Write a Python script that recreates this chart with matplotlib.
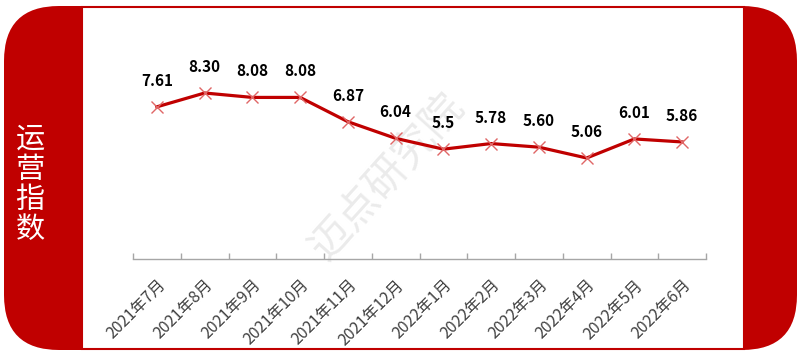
import matplotlib
matplotlib.use("Agg")
import matplotlib.pyplot as plt
from matplotlib.patches import FancyBboxPatch, Rectangle

plt.rcParams['font.family'] = ['Noto Sans CJK SC', 'DejaVu Sans']

categories = ["2021年7月", "2021年8月", "2021年9月", "2021年10月", "2021年11月", "2021年12月",
              "2022年1月", "2022年2月", "2022年3月", "2022年4月", "2022年5月", "2022年6月"]
values = [7.61, 8.30, 8.08, 8.08, 6.87, 6.04, 5.5, 5.78, 5.60, 5.06, 6.01, 5.86]
value_labels = ["7.61", "8.30", "8.08", "8.08", "6.87", "6.04", "5.5", "5.78", "5.60", "5.06", "6.01", "5.86"]
panel_title = "运营指数"
watermark = "迈点研究院"

RED = "#C00000"
W, H = 800, 363
fig = plt.figure(figsize=(W / 100, H / 100), dpi=100)
fig.patch.set_facecolor("white")

# Outer red rounded panel (inch coordinates)
outer = FancyBboxPatch((0.04 + 0.55, 0.13 + 0.55), (7.97 - 0.04) - 1.1, (3.57 - 0.13) - 1.1,
                       boxstyle="round,pad=0.55", transform=fig.dpi_scale_trans,
                       facecolor=RED, edgecolor="none", zorder=0)
fig.patches.append(outer)
# Inner white rectangle with red border
inner = Rectangle((0.82, 0.145), 7.44 - 0.82, 3.56 - 0.145, transform=fig.dpi_scale_trans,
                  facecolor="white", edgecolor=RED, linewidth=1.5, zorder=1)
fig.patches.append(inner)

# Vertical title on the left panel
fig.text(30 / W, 1 - 185 / H, "\n".join(panel_title), color="white", fontsize=21,
         ha="center", va="center", linespacing=1.0, zorder=3)

# Watermark
fig.text(387 / W, 1 - 178 / H, watermark, color="#ebebeb", fontsize=30, rotation=48,
         ha="center", va="center", zorder=2, fontweight="light")

left, right = 133 / W, 706 / W
y0 = 0.05
bottom = 1 - 258.5 / H
top = 1 - (258.5 - (10 - y0) * 20.06) / H
ax = fig.add_axes([left, bottom, right - left, top - bottom])
ax.set_facecolor("none")
ax.set_zorder(4)

x = list(range(len(categories)))
ax.plot(x, values, color=RED, linewidth=2.3, marker="x", markersize=9,
        markeredgecolor="#E06666", markeredgewidth=1.0, zorder=3)
for xi, v, lab in zip(x, values, value_labels):
    ax.annotate(lab, (xi, v), xytext=(0, 13), textcoords="offset points",
                ha="center", va="bottom", fontsize=11, fontweight="bold", color="black")

ax.set_xlim(-0.5, len(categories) - 0.5)
ax.set_ylim(y0, 10)
ax.set_yticks([])
for s in ["left", "right", "top"]:
    ax.spines[s].set_visible(False)
ax.spines["bottom"].set_color("#A6A6A6")
ax.spines["bottom"].set_linewidth(1.0)

ax.set_xticks(x)
ax.set_xticklabels(categories, rotation=45, ha="right", rotation_mode="anchor",
                   fontsize=11.5, color="#404040")
ax.tick_params(axis="x", which="major", length=0, pad=13)
ax.set_xticks([i - 0.5 for i in range(len(categories) + 1)], minor=True)
ax.tick_params(axis="x", which="minor", direction="in", length=4, color="#A6A6A6", width=1.0)

fig.savefig("out.png", dpi=100, facecolor="white")
